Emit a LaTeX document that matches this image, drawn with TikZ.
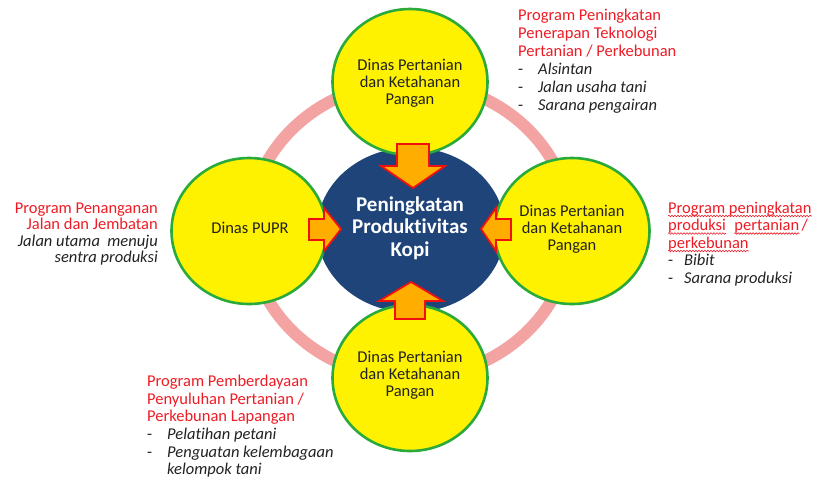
\documentclass[tikz,border=0pt]{standalone}
\usepackage{fontspec}
\setmainfont{Carlito}[RawFeature={-liga;-clig;-calt;-dlig}]
\usetikzlibrary{shapes.geometric,decorations.pathmorphing}
\definecolor{ringpink}{HTML}{F4A3A3}
\definecolor{circgreen}{HTML}{2AAA3A}
\definecolor{navy}{HTML}{1F4479}
\definecolor{arrfill}{HTML}{FFAE00}
\definecolor{arrred}{HTML}{F01010}
\definecolor{txtred}{HTML}{EE1C25}
\definecolor{txtdark}{HTML}{222222}
\newcommand{\nolig}{\kern0pt}
\begin{document}
\begin{tikzpicture}[x=1pt,y=-1pt,
  dinas/.style={ellipse, fill=yellow, draw=circgreen, line width=2.6pt,
    minimum width=155pt, minimum height=146pt, inner sep=0pt},
  dtext/.style={align=center, text=txtdark, font=\fontsize{16.5}{17}\selectfont},
  hub/.style={ellipse, fill=navy, minimum width=188pt, minimum height=165pt, inner sep=0pt},
  hubtext/.style={align=center, text=white, font=\fontsize{21}{22.5}\selectfont\bfseries},
  blockarr/.style={fill=arrfill, draw=arrred, line width=1.8pt, line join=miter},
  ann/.style={anchor=base west, inner sep=0pt, font=\fontsize{16.5}{18}\selectfont},
  annr/.style={anchor=base east, inner sep=0pt, font=\fontsize{16.5}{18}\selectfont},
  red/.style={text=txtred},
  itl/.style={text=txtdark, font=\fontsize{16.5}{18}\selectfont\itshape},
  squig/.style={draw=txtred, line width=0.6pt, decorate,
    decoration={snake, amplitude=0.8pt, segment length=3pt}}
]
\useasboundingbox (0,0) rectangle (818,483);
\fill[white] (0,0) rectangle (818,483);

% pink ring
\draw[ringpink, line width=12pt] (410,230) ellipse [x radius=161, y radius=148];

% hub
\node[hub] (hub) at (411,230) {};

% circles
\node[dinas] (top) at (410,82) {};
\node[dinas] (left) at (249,231) {};
\node[dinas] (right) at (572,231) {};
\node[dinas] (bottom) at (410,378) {};

\node[dtext] (toptxt) at (410,83) {Dinas Pertanian\\dan Ketahanan\\Pangan};
\node[dtext] (lefttxt) at (250,228) {Dinas PUPR};
\node[dtext] (righttxt) at (572,229) {Dinas Pertanian\\dan Ketahanan\\Pangan};
\node[dtext] (bottomtxt) at (410,375) {Dinas Pertanian\\dan Ketahanan\\Pangan};

\node[hubtext] (hubtxt) at (410,228) {Peningkatan\\Produkt\nolig ivitas\\Kopi};

% block arrows
\draw[blockarr] (397,144) -- (429,144) -- (429,166) -- (445,166) -- (413,188)
  -- (381,166) -- (397,166) -- cycle;
\draw[blockarr] (395,319) -- (425,319) -- (425,301) -- (443,301) -- (411,282)
  -- (379,301) -- (395,301) -- cycle;
\draw[blockarr] (309,219) -- (324,219) -- (324,208) -- (341,229) -- (324,251)
  -- (324,240) -- (309,240) -- cycle;
\draw[blockarr] (511,219) -- (496,219) -- (496,208) -- (481,229) -- (496,251)
  -- (496,240) -- (511,240) -- cycle;

% top-right annotation
\node[ann,red] (tr1) at (518,20) {Program Peningkatan};
\node[ann,red] (tr2) at (518,38) {Penerapan Teknologi};
\node[ann,red] (tr3) at (518,56) {Pertanian / Perkebunan};
\node[ann,text=txtdark] (tr4d) at (518,74) {-};
\node[ann,itl] (tr4) at (538,74) {Alsintan};
\node[ann,text=txtdark] (tr5d) at (518,92) {-};
\node[ann,itl] (tr5) at (538,92) {Jalan usaha tani};
\node[ann,text=txtdark] (tr6d) at (518,110) {-};
\node[ann,itl] (tr6) at (538,110) {Sarana pengairan};

% left annotation
\node[annr,red] (l1) at (158,213) {Program Penanganan};
\node[annr,red] (l2) at (158,229.5) {Jalan dan Jembatan};
\node[annr,itl,anchor=base east] (l3) at (158,246) {Jalan utama\ \ menuju};
\node[annr,itl,anchor=base east] (l4) at (158,262.5) {sentra produksi};

% right annotation
\node[ann,red] (r1) at (668,213) {Program peningkatan};
\node[ann,red] (r2a) at (668,230.5) {produksi};
\node[ann,red] (r2b) at ([xshift=8pt]r2a.base east) {pertanian};
\node[ann,red] (r2c) at ([xshift=2pt]r2b.base east) {/};
\node[ann,red] (r3) at (668,248) {perkebunan};
\node[ann,text=txtdark] (r4d) at (668,265.5) {-};
\node[ann,itl] (r4) at (684,265.5) {Bibit};
\node[ann,text=txtdark] (r5d) at (668,283) {-};
\node[ann,itl] (r5) at (684,283) {Sarana produksi};
\draw[squig] ([yshift=-3pt]r1.base west) -- ([yshift=-3pt]r1.base east);
\draw[squig] ([yshift=-3pt]r2a.base west) -- ([yshift=-3pt]r2a.base east);
\draw[squig] ([yshift=-3pt]r2b.base west) -- ([yshift=-3pt]r2b.base east);
\draw[squig] ([yshift=-3pt]r3.base west) -- ([yshift=-3pt]r3.base east);

% bottom annotation
\node[ann,red] (b1) at (147,386.5) {Program Pemberdayaan};
\node[ann,red] (b2) at (147,404) {Penyuluhan Pertanian /};
\node[ann,red] (b3) at (147,421) {Perkebunan Lapangan};
\node[ann,text=txtdark] (b4d) at (147,439) {-};
\node[ann,itl] (b4) at (167,439) {Pelat\nolig ihan petani};
\node[ann,text=txtdark] (b5d) at (147,457) {-};
\node[ann,itl] (b5) at (167,457) {Penguatan kelembagaan};
\node[ann,itl] (b6) at (167,474.5) {kelompok tani};
\end{tikzpicture}
\end{document}
